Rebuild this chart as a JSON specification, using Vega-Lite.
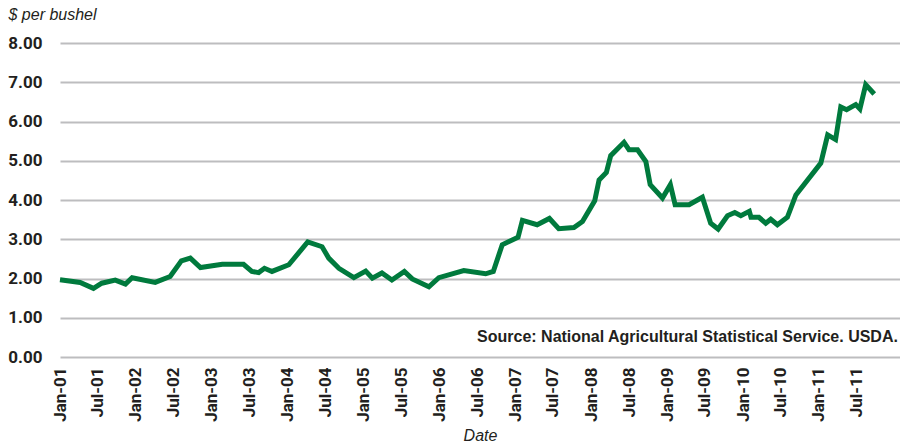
{
  "$schema": "https://vega.github.io/schema/vega-lite/v6.json",
  "width": 840,
  "height": 314,
  "autosize": "none",
  "padding": {"left": 60, "top": 43, "right": 0, "bottom": 87},
  "background": "white",
  "config": {"view": {"stroke": null}},
  "params": [],
  "data": {"values": [
    {"date": "2001-01-01", "price": 1.97},
    {"date": "2001-04-08", "price": 1.90},
    {"date": "2001-06-11", "price": 1.75},
    {"date": "2001-07-21", "price": 1.88},
    {"date": "2001-09-24", "price": 1.96},
    {"date": "2001-11-12", "price": 1.86},
    {"date": "2001-12-14", "price": 2.02},
    {"date": "2002-04-04", "price": 1.90},
    {"date": "2002-06-15", "price": 2.05},
    {"date": "2002-08-08", "price": 2.45},
    {"date": "2002-09-20", "price": 2.52},
    {"date": "2002-11-08", "price": 2.28},
    {"date": "2003-02-21", "price": 2.36},
    {"date": "2003-06-03", "price": 2.36},
    {"date": "2003-07-13", "price": 2.18},
    {"date": "2003-08-15", "price": 2.15},
    {"date": "2003-09-12", "price": 2.26},
    {"date": "2003-10-18", "price": 2.18},
    {"date": "2004-01-07", "price": 2.35},
    {"date": "2004-04-07", "price": 2.93},
    {"date": "2004-06-15", "price": 2.81},
    {"date": "2004-07-17", "price": 2.52},
    {"date": "2004-09-04", "price": 2.26},
    {"date": "2004-11-15", "price": 2.02},
    {"date": "2005-01-11", "price": 2.19},
    {"date": "2005-02-12", "price": 2.01},
    {"date": "2005-03-30", "price": 2.14},
    {"date": "2005-05-17", "price": 1.96},
    {"date": "2005-07-16", "price": 2.18},
    {"date": "2005-08-23", "price": 1.99},
    {"date": "2005-11-11", "price": 1.79},
    {"date": "2005-12-29", "price": 2.02},
    {"date": "2006-04-28", "price": 2.20},
    {"date": "2006-08-11", "price": 2.12},
    {"date": "2006-09-17", "price": 2.18},
    {"date": "2006-10-30", "price": 2.86},
    {"date": "2007-01-14", "price": 3.05},
    {"date": "2007-02-04", "price": 3.48},
    {"date": "2007-04-16", "price": 3.37},
    {"date": "2007-06-14", "price": 3.53},
    {"date": "2007-07-29", "price": 3.27},
    {"date": "2007-10-10", "price": 3.30},
    {"date": "2007-11-20", "price": 3.45},
    {"date": "2008-01-18", "price": 3.98},
    {"date": "2008-02-08", "price": 4.51},
    {"date": "2008-03-14", "price": 4.70},
    {"date": "2008-04-04", "price": 5.13},
    {"date": "2008-06-07", "price": 5.47},
    {"date": "2008-07-01", "price": 5.28},
    {"date": "2008-08-11", "price": 5.28},
    {"date": "2008-09-20", "price": 4.98},
    {"date": "2008-10-11", "price": 4.39},
    {"date": "2008-12-09", "price": 4.05},
    {"date": "2009-01-16", "price": 4.39},
    {"date": "2009-02-08", "price": 3.88},
    {"date": "2009-04-16", "price": 3.88},
    {"date": "2009-06-19", "price": 4.07},
    {"date": "2009-07-29", "price": 3.41},
    {"date": "2009-09-03", "price": 3.26},
    {"date": "2009-10-18", "price": 3.60},
    {"date": "2009-11-22", "price": 3.68},
    {"date": "2009-12-21", "price": 3.60},
    {"date": "2010-01-31", "price": 3.71},
    {"date": "2010-02-08", "price": 3.56},
    {"date": "2010-03-18", "price": 3.56},
    {"date": "2010-04-20", "price": 3.41},
    {"date": "2010-05-14", "price": 3.51},
    {"date": "2010-06-15", "price": 3.37},
    {"date": "2010-08-02", "price": 3.56},
    {"date": "2010-09-12", "price": 4.13},
    {"date": "2011-01-10", "price": 4.94},
    {"date": "2011-02-12", "price": 5.66},
    {"date": "2011-03-22", "price": 5.54},
    {"date": "2011-04-16", "price": 6.37},
    {"date": "2011-05-14", "price": 6.30},
    {"date": "2011-06-27", "price": 6.43},
    {"date": "2011-07-17", "price": 6.32},
    {"date": "2011-08-14", "price": 6.94},
    {"date": "2011-09-24", "price": 6.70}
  ]},
  "layer": [
    {
      "mark": {"type": "line", "color": "#007A3D", "strokeWidth": 5, "clip": false},
      "encoding": {
        "x": {
          "field": "date",
          "type": "temporal",
          "scale": {
            "type": "utc",
            "domain": [
              {"year": 2001, "month": 1, "date": 1, "utc": true},
              {"year": 2012, "month": 1, "date": 26, "utc": true}
            ]
          },
          "axis": {
            "title": "Date",
            "titleFont": "Liberation Sans",
            "titleFontStyle": "italic",
            "titleFontWeight": "normal",
            "titleFontSize": 16,
            "titleColor": "#231F20",
            "titlePadding": 6,
            "values": [
              {"year": 2001, "month": 1, "date": 1, "utc": true},
              {"year": 2001, "month": 7, "date": 1, "utc": true},
              {"year": 2002, "month": 1, "date": 1, "utc": true},
              {"year": 2002, "month": 7, "date": 1, "utc": true},
              {"year": 2003, "month": 1, "date": 1, "utc": true},
              {"year": 2003, "month": 7, "date": 1, "utc": true},
              {"year": 2004, "month": 1, "date": 1, "utc": true},
              {"year": 2004, "month": 7, "date": 1, "utc": true},
              {"year": 2005, "month": 1, "date": 1, "utc": true},
              {"year": 2005, "month": 7, "date": 1, "utc": true},
              {"year": 2006, "month": 1, "date": 1, "utc": true},
              {"year": 2006, "month": 7, "date": 1, "utc": true},
              {"year": 2007, "month": 1, "date": 1, "utc": true},
              {"year": 2007, "month": 7, "date": 1, "utc": true},
              {"year": 2008, "month": 1, "date": 1, "utc": true},
              {"year": 2008, "month": 7, "date": 1, "utc": true},
              {"year": 2009, "month": 1, "date": 1, "utc": true},
              {"year": 2009, "month": 7, "date": 1, "utc": true},
              {"year": 2010, "month": 1, "date": 1, "utc": true},
              {"year": 2010, "month": 7, "date": 1, "utc": true},
              {"year": 2011, "month": 1, "date": 1, "utc": true},
              {"year": 2011, "month": 7, "date": 1, "utc": true}
            ],
            "format": "%b-%y",
            "labelAngle": 270,
            "labelFont": "Roboto",
            "labelFontWeight": "bold",
            "labelFontSize": 17,
            "labelColor": "#231F20",
            "labelPadding": 10,
            "labelOverlap": false,
            "labelSeparation": 0,
            "labelFlush": false,
            "ticks": false,
            "domain": false,
            "grid": false
          }
        },
        "y": {
          "field": "price",
          "type": "quantitative",
          "scale": {"domain": [0, 8], "nice": false, "zero": true},
          "axis": {
            "title": "$ per bushel",
            "titleFont": "Liberation Sans",
            "titleFontStyle": "italic",
            "titleFontWeight": "normal",
            "titleFontSize": 16,
            "titleColor": "#231F20",
            "titleAngle": 0,
            "titleAlign": "left",
            "titleBaseline": "alphabetic",
            "titleX": -52,
            "titleY": -24,
            "values": [0, 1, 2, 3, 4, 5, 6, 7, 8],
            "format": ".2f",
            "labelFont": "Roboto",
            "labelFontWeight": "bold",
            "labelFontSize": 17,
            "labelColor": "#231F20",
            "labelPadding": 18,
            "labelOverlap": false,
            "labelSeparation": 0,
            "ticks": false,
            "domain": false,
            "grid": true,
            "gridColor": "#BDBDBF",
            "gridWidth": 2
          }
        }
      }
    },
    {
      "data": {"values": [{"label": "Source: National Agricultural Statistical Service. USDA."}]},
      "mark": {
        "type": "text",
        "align": "right",
        "baseline": "middle",
        "font": "Liberation Sans",
        "fontWeight": "bold",
        "fontSize": 16,
        "color": "#231F20"
      },
      "encoding": {
        "x": {
          "datum": {"year": 2012, "month": 1, "date": 16, "utc": true},
          "type": "temporal",
          "scale": {
            "type": "utc",
            "domain": [
              {"year": 2001, "month": 1, "date": 1, "utc": true},
              {"year": 2012, "month": 1, "date": 26, "utc": true}
            ]
          },
          "axis": {
            "title": "Date",
            "titleFont": "Liberation Sans",
            "titleFontStyle": "italic",
            "titleFontWeight": "normal",
            "titleFontSize": 16,
            "titleColor": "#231F20",
            "titlePadding": 6,
            "values": [
              {"year": 2001, "month": 1, "date": 1, "utc": true},
              {"year": 2001, "month": 7, "date": 1, "utc": true},
              {"year": 2002, "month": 1, "date": 1, "utc": true},
              {"year": 2002, "month": 7, "date": 1, "utc": true},
              {"year": 2003, "month": 1, "date": 1, "utc": true},
              {"year": 2003, "month": 7, "date": 1, "utc": true},
              {"year": 2004, "month": 1, "date": 1, "utc": true},
              {"year": 2004, "month": 7, "date": 1, "utc": true},
              {"year": 2005, "month": 1, "date": 1, "utc": true},
              {"year": 2005, "month": 7, "date": 1, "utc": true},
              {"year": 2006, "month": 1, "date": 1, "utc": true},
              {"year": 2006, "month": 7, "date": 1, "utc": true},
              {"year": 2007, "month": 1, "date": 1, "utc": true},
              {"year": 2007, "month": 7, "date": 1, "utc": true},
              {"year": 2008, "month": 1, "date": 1, "utc": true},
              {"year": 2008, "month": 7, "date": 1, "utc": true},
              {"year": 2009, "month": 1, "date": 1, "utc": true},
              {"year": 2009, "month": 7, "date": 1, "utc": true},
              {"year": 2010, "month": 1, "date": 1, "utc": true},
              {"year": 2010, "month": 7, "date": 1, "utc": true},
              {"year": 2011, "month": 1, "date": 1, "utc": true},
              {"year": 2011, "month": 7, "date": 1, "utc": true}
            ],
            "format": "%b-%y",
            "labelAngle": 270,
            "labelFont": "Roboto",
            "labelFontWeight": "bold",
            "labelFontSize": 17,
            "labelColor": "#231F20",
            "labelPadding": 10,
            "labelOverlap": false,
            "labelSeparation": 0,
            "labelFlush": false,
            "ticks": false,
            "domain": false,
            "grid": false
          }
        },
        "y": {
          "datum": 0.52,
          "type": "quantitative",
          "scale": {"domain": [0, 8], "nice": false, "zero": true},
          "axis": {
            "title": "$ per bushel",
            "titleFont": "Liberation Sans",
            "titleFontStyle": "italic",
            "titleFontWeight": "normal",
            "titleFontSize": 16,
            "titleColor": "#231F20",
            "titleAngle": 0,
            "titleAlign": "left",
            "titleBaseline": "alphabetic",
            "titleX": -52,
            "titleY": -24,
            "values": [0, 1, 2, 3, 4, 5, 6, 7, 8],
            "format": ".2f",
            "labelFont": "Roboto",
            "labelFontWeight": "bold",
            "labelFontSize": 17,
            "labelColor": "#231F20",
            "labelPadding": 18,
            "labelOverlap": false,
            "labelSeparation": 0,
            "ticks": false,
            "domain": false,
            "grid": true,
            "gridColor": "#BDBDBF",
            "gridWidth": 2
          }
        },
        "text": {"field": "label", "type": "nominal"}
      }
    }
  ]
}
